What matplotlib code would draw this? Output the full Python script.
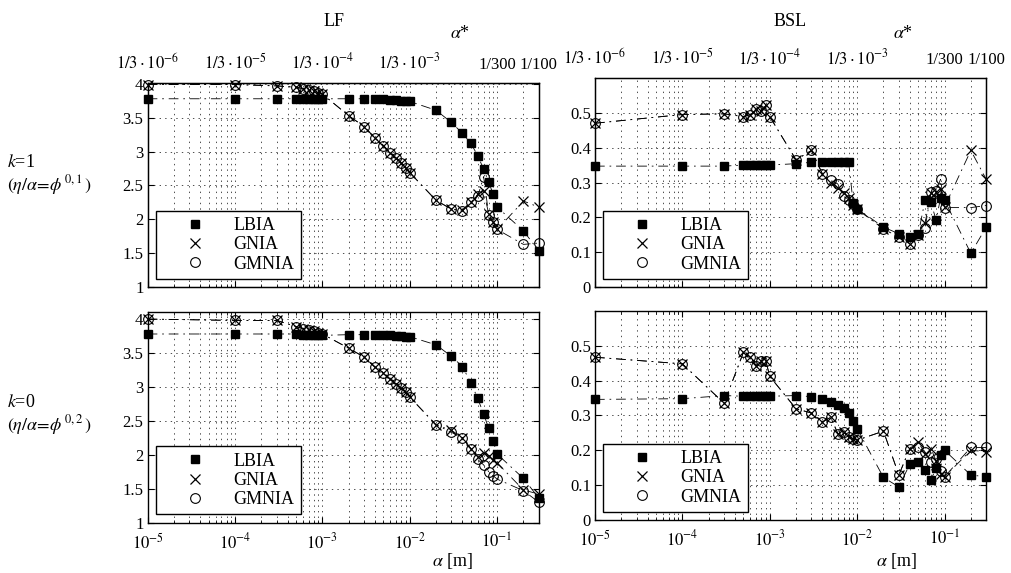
#!/usr/bin/env python3
"""Load factors of LBIA / GNIA / GMNIA against imperfection amplitude"""

import numpy as np
import matplotlib
matplotlib.use('Agg')
import matplotlib.pyplot as plt
from matplotlib.lines import Line2D
from matplotlib.ticker import FixedLocator, FixedFormatter, FormatStrFormatter

plt.rcParams['font.family'] = ['Liberation Serif', 'DejaVu Serif']
plt.rcParams['mathtext.fontset'] = 'stix'
plt.rcParams['lines.scale_dashes'] = False

# imperfection amplitude alpha [m]
alpha_m = [1e-5, 1e-4, 3e-4, 5e-4, 6e-4, 7e-4, 8e-4, 9e-4, 1e-3,
           2e-3, 3e-3, 4e-3, 5e-3, 6e-3, 7e-3, 8e-3, 9e-3, 1e-2,
           2e-2, 3e-2, 4e-2, 5e-2, 6e-2, 7e-2, 8e-2, 9e-2, 0.1,
           0.2, 0.3]

# LF, k=1
lf_k1_lbia = [3.78, 3.78, 3.78, 3.78, 3.78, 3.78, 3.78, 3.78, 3.78,
              3.78, 3.78, 3.77, 3.77, 3.76, 3.76, 3.75, 3.75, 3.74,
              3.61, 3.43, 3.27, 3.12, 2.94, 2.74, 2.55, 2.37, 2.18,
              1.83, 1.53]
lf_k1_gnia = [3.99, 3.99, 3.97, 3.95, 3.93, 3.91, 3.89, 3.87, 3.85,
              3.53, 3.37, 3.20, 3.09, 2.98, 2.91, 2.83, 2.76, 2.69,
              2.28, 2.15, 2.14, 2.25, 2.37, 2.42, 2.08, 1.96, 1.85,
              2.27, 2.18]
lf_k1_gmnia = [3.99, 3.99, 3.97, 3.95, 3.93, 3.91, 3.89, 3.87, 3.85,
               3.53, 3.37, 3.20, 3.09, 2.98, 2.91, 2.83, 2.76, 2.69,
               2.28, 2.15, 2.12, 2.25, 2.34, 2.63, 2.07, 1.96, 1.85,
               1.63, 1.65]

# LF, k=0
lf_k0_lbia = [3.78, 3.78, 3.78, 3.78, 3.77, 3.77, 3.77, 3.76, 3.76,
              3.77, 3.77, 3.77, 3.76, 3.76, 3.75, 3.75, 3.74, 3.74,
              3.62, 3.45, 3.30, 3.06, 2.83, 2.60, 2.39, 2.20, 2.01,
              1.65, 1.36]
lf_k0_gnia = [4.00, 3.98, 3.98, 3.89, 3.86, 3.84, 3.82, 3.80, 3.78,
              3.57, 3.44, 3.29, 3.21, 3.11, 3.04, 2.98, 2.92, 2.85,
              2.44, 2.36, 2.25, 2.09, 1.97, 2.03, 1.98, 1.92, 1.88,
              1.48, 1.42]
lf_k0_gmnia = [4.00, 3.98, 3.98, 3.89, 3.86, 3.84, 3.82, 3.80, 3.78,
               3.57, 3.44, 3.29, 3.21, 3.11, 3.04, 2.98, 2.92, 2.85,
               2.44, 2.33, 2.25, 2.09, 1.93, 1.85, 1.75, 1.69, 1.64,
               1.47, 1.30]

# BSL, k=1
bsl_k1_lbia = [0.347, 0.347, 0.347, 0.350, 0.350, 0.350, 0.350, 0.350, 0.350,
               0.354, 0.358, 0.358, 0.358, 0.358, 0.358, 0.358, 0.241, 0.225,
               0.172, 0.153, 0.145, 0.151, 0.251, 0.243, 0.192, 0.255, 0.249,
               0.097, 0.172]
bsl_k1_gnia = [0.470, 0.495, 0.497, 0.489, 0.495, 0.511, 0.504, 0.521, 0.489,
               0.365, 0.392, 0.325, 0.300, 0.285, 0.270, 0.255, 0.236, 0.225,
               0.167, 0.143, 0.124, 0.150, 0.185, 0.270, 0.272, 0.280, 0.230,
               0.392, 0.309]
bsl_k1_gmnia = [0.470, 0.495, 0.497, 0.489, 0.495, 0.511, 0.504, 0.521, 0.489,
                0.365, 0.392, 0.325, 0.306, 0.296, 0.262, 0.250, 0.238, 0.223,
                0.167, 0.143, 0.124, 0.150, 0.170, 0.272, 0.277, 0.309, 0.228,
                0.228, 0.234]

# BSL, k=0
bsl_k0_lbia = [0.346, 0.348, 0.357, 0.355, 0.355, 0.355, 0.355, 0.355, 0.355,
               0.357, 0.354, 0.348, 0.338, 0.329, 0.321, 0.307, 0.284, 0.262,
               0.122, 0.095, 0.160, 0.165, 0.143, 0.116, 0.148, 0.186, 0.200,
               0.129, 0.124]
bsl_k0_gnia = [0.467, 0.448, 0.335, 0.481, 0.467, 0.443, 0.457, 0.457, 0.412,
               0.319, 0.307, 0.281, 0.295, 0.248, 0.252, 0.238, 0.233, 0.229,
               0.255, 0.129, 0.205, 0.224, 0.190, 0.205, 0.170, 0.133, 0.124,
               0.200, 0.196]
bsl_k0_gmnia = [0.467, 0.448, 0.335, 0.481, 0.467, 0.443, 0.457, 0.457, 0.412,
                0.319, 0.307, 0.281, 0.295, 0.248, 0.252, 0.238, 0.233, 0.229,
                0.255, 0.129, 0.205, 0.208, 0.195, 0.165, 0.175, 0.140, 0.124,
                0.208, 0.208]

# top axis: normalised amplitude alpha* = alpha / 30
top_tick_pos = [1e-5, 1e-4, 1e-3, 1e-2, 0.1, 0.3]
top_tick_lbl = [r'$1/3\cdot10^{-6}$', r'$1/3\cdot10^{-5}$', r'$1/3\cdot10^{-4}$',
                r'$1/3\cdot10^{-3}$', '1/300', '1/100']
bottom_tick_pos = [1e-5, 1e-4, 1e-3, 1e-2, 0.1]
bottom_tick_lbl = [r'$10^{-5}$', r'$10^{-4}$', r'$10^{-3}$', r'$10^{-2}$', r'$10^{-1}$']

series_names = ['LBIA', 'GNIA', 'GMNIA']
FS = 12
DASHDOT = (0, (7, 3.5, 1.2, 3.5))
GRID = dict(ls=(0, (1, 3)), lw=0.7, color='0.3')

##########################################################
def draw_panel(ax, ys, ylim, yticks, top=False, bottom=False):
    """Three series on a log-x axis, MATLAB-like dotted grid"""
    x = np.array(alpha_m)
    styles = [dict(marker='s', mfc='k', mec='k', ms=5.5),
              dict(marker='x', mfc='none', mec='k', ms=7, mew=0.9),
              dict(marker='o', mfc='none', mec='k', ms=7, mew=0.8)]
    for y, st in zip(ys, styles):
        ax.plot(x, y, ls=DASHDOT, color='k', lw=0.6, clip_on=False, **st)

    ax.set_xscale('log')
    ax.set_xlim(1e-5, 0.3)
    ax.set_ylim(*ylim)
    ax.yaxis.set_major_locator(FixedLocator(yticks))
    ax.yaxis.set_major_formatter(FormatStrFormatter('%g'))
    ax.xaxis.set_major_locator(FixedLocator(bottom_tick_pos))
    ax.xaxis.set_major_formatter(FixedFormatter(bottom_tick_lbl))
    minors = [m * 10.0 ** e for e in range(-5, 0) for m in range(2, 10)]
    ax.xaxis.set_minor_locator(FixedLocator([v for v in minors if v <= 0.3]))
    ax.grid(True, which='major', **GRID)
    ax.grid(True, which='minor', axis='x', **GRID)
    ax.tick_params(which='both', direction='in', top=True, right=True,
                   labelsize=FS, pad=3)
    ax.tick_params(axis='x', pad=7)
    ax.tick_params(which='major', length=4)
    ax.tick_params(which='minor', length=2)
    if not bottom:
        ax.tick_params(labelbottom=False)
    for sp in ax.spines.values():
        sp.set_linewidth(1.0)
        sp.set_zorder(3)

    handles = [Line2D([], [], ls='none', color='k', **st) for st in styles]
    leg = ax.legend(handles, series_names, loc='lower left', fontsize=FS + 1,
                    frameon=True, fancybox=False, edgecolor='k', framealpha=1,
                    borderaxespad=0.45, labelspacing=0.12, borderpad=0.35,
                    handlelength=3.6, handletextpad=0.35)
    leg.get_frame().set_linewidth(1.0)
    leg.set_zorder(5)

    if top:
        tw = ax.twiny()
        tw.set_xscale('log')
        tw.set_xlim(ax.get_xlim())
        tw.xaxis.set_major_locator(FixedLocator(top_tick_pos))
        tw.xaxis.set_major_formatter(FixedFormatter(top_tick_lbl))
        tw.xaxis.set_minor_locator(FixedLocator([]))
        tw.tick_params(length=0, labelsize=FS, pad=7)

##########################################################
def main():
    fig = plt.figure(figsize=(10.11, 5.73), dpi=100)
    ax_tl = fig.add_axes([0.146, 0.499, 0.387, 0.357])
    ax_tr = fig.add_axes([0.5885, 0.499, 0.387, 0.365])
    ax_bl = fig.add_axes([0.146, 0.088, 0.387, 0.367])
    ax_br = fig.add_axes([0.5885, 0.0925, 0.387, 0.365])

    draw_panel(ax_tl, [lf_k1_lbia, lf_k1_gnia, lf_k1_gmnia], (1, 4.02),
               [1, 1.5, 2, 2.5, 3, 3.5, 4], top=True)
    draw_panel(ax_tr, [bsl_k1_lbia, bsl_k1_gnia, bsl_k1_gmnia], (0, 0.6),
               [0, 0.1, 0.2, 0.3, 0.4, 0.5], top=True)
    draw_panel(ax_bl, [lf_k0_lbia, lf_k0_gnia, lf_k0_gmnia], (1, 4.1),
               [1, 1.5, 2, 2.5, 3, 3.5, 4], bottom=True)
    draw_panel(ax_br, [bsl_k0_lbia, bsl_k0_gnia, bsl_k0_gmnia], (0, 0.6),
               [0, 0.1, 0.2, 0.3, 0.4, 0.5], bottom=True)

    # column titles and alpha* labels
    fig.text(0.330, 0.963, 'LF', ha='center', va='center', fontsize=FS + 1)
    fig.text(0.781, 0.963, 'BSL', ha='center', va='center', fontsize=FS + 1)
    fig.text(0.455, 0.942, r'$\alpha$*', ha='center', va='center', fontsize=FS + 1)
    fig.text(0.893, 0.942, r'$\alpha$*', ha='center', va='center', fontsize=FS + 1)
    fig.text(0.448, 0.021, r'$\alpha$ [m]', ha='center', va='center', fontsize=FS + 1)
    fig.text(0.887, 0.021, r'$\alpha$ [m]', ha='center', va='center', fontsize=FS + 1)

    # row labels
    fig.text(0.007, 0.716, r'$k$=1', ha='left', va='center', fontsize=FS + 1)
    fig.text(0.007, 0.677, r'$(\eta/\alpha\!=\!\phi^{\,0,1}\,)$', ha='left',
             va='center', fontsize=FS + 1)
    fig.text(0.007, 0.298, r'$k$=0', ha='left', va='center', fontsize=FS + 1)
    fig.text(0.007, 0.259, r'$(\eta/\alpha\!=\!\phi^{\,0,2}\,)$', ha='left',
             va='center', fontsize=FS + 1)

    fig.savefig('out.png', dpi=100)

##########################################################
if __name__ == "__main__":
    main()
